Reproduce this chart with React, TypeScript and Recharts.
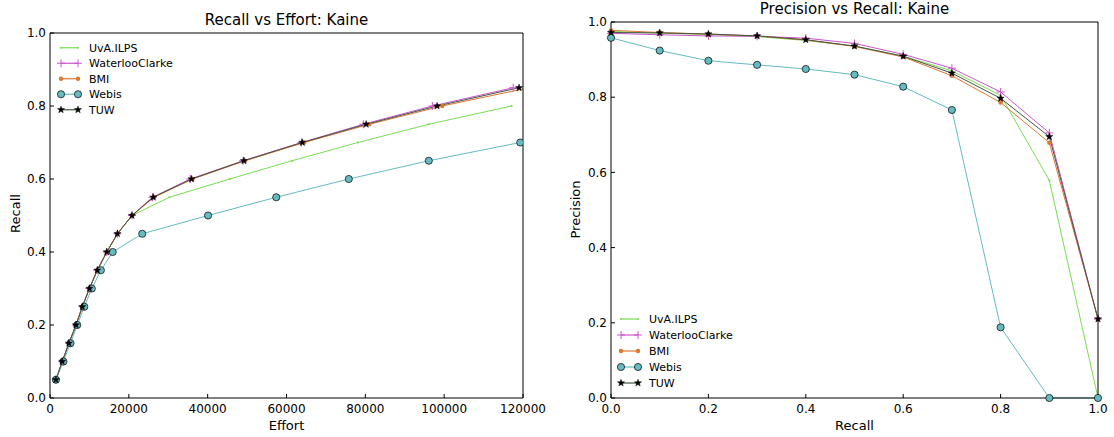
import React from "react";
import { LineChart, Line, XAxis, YAxis, Legend } from "recharts";

// recall vs effort (left panel)
const recallLevels = [0.05, 0.1, 0.15, 0.2, 0.25, 0.3, 0.35, 0.4, 0.45, 0.5, 0.55, 0.6, 0.65, 0.7, 0.75, 0.8, 0.85];
const uvaEffort = [1500, 3100, 4800, 6600, 8200, 10000, 12000, 14400, 17100, 20800, 30300, 45600, 61400, 78100, 96100, 117100];
const waterlooEffort = [1500, 3100, 4800, 6600, 8200, 10000, 12000, 14400, 17100, 20800, 26000, 35600, 49000, 63800, 79500, 97000, 117500];
const bmiEffort = [1500, 3100, 4800, 6600, 8200, 10000, 12000, 14400, 17100, 20800, 26400, 36200, 49500, 64500, 81000, 99500, 121500];
const webisEffort = [1500, 3400, 5200, 6900, 8700, 10600, 12900, 15900, 23400, 40100, 57400, 75800, 96100, 119300];
const tuwEffort = [1500, 3100, 4800, 6600, 8200, 10000, 12000, 14400, 17100, 20800, 26200, 35900, 49200, 64000, 80200, 98200, 119000];
const effortTicks = [0, 20000, 40000, 60000, 80000, 100000, 120000];

// precision vs recall (right panel)
const recallPoints = [0, 0.1, 0.2, 0.3, 0.4, 0.5, 0.6, 0.7, 0.8, 0.9, 1.0];
const uvaPrecision = [0.975, 0.97, 0.967, 0.961, 0.951, 0.936, 0.909, 0.87, 0.805, 0.579, 0.0];
const waterlooPrecision = [0.97, 0.966, 0.963, 0.962, 0.957, 0.943, 0.914, 0.877, 0.814, 0.705, 0.21];
const bmiPrecision = [0.978, 0.972, 0.968, 0.963, 0.952, 0.935, 0.907, 0.857, 0.786, 0.679, 0.21];
const webisPrecision = [0.958, 0.924, 0.897, 0.886, 0.875, 0.86, 0.828, 0.766, 0.188, 0.0, 0.0];
const tuwPrecision = [0.972, 0.971, 0.968, 0.963, 0.953, 0.936, 0.909, 0.864, 0.797, 0.695, 0.21];
const unitTicks = [0, 0.2, 0.4, 0.6, 0.8, 1.0];

const FONT = "'DejaVu Sans', sans-serif";

const series = [
  { name: "UvA.ILPS", color: "#77dd55", marker: "point" },
  { name: "WaterlooClarke", color: "#cc55cc", marker: "plus" },
  { name: "BMI", color: "#dd7733", marker: "dot" },
  { name: "Webis", color: "#66bbc0", marker: "circle" },
  { name: "TUW", color: "#445544", marker: "star" },
];

const toPairs = (xs: number[], ys: number[]) => xs.map((x, i) => ({ x, y: ys[i] }));

const effortData = [
  toPairs(uvaEffort, recallLevels),
  toPairs(waterlooEffort, recallLevels),
  toPairs(bmiEffort, recallLevels),
  toPairs(webisEffort, recallLevels),
  toPairs(tuwEffort, recallLevels),
];

const prData = [
  toPairs(recallPoints, uvaPrecision),
  toPairs(recallPoints, waterlooPrecision),
  toPairs(recallPoints, bmiPrecision),
  toPairs(recallPoints, webisPrecision),
  toPairs(recallPoints, tuwPrecision),
];

function starPoints(cx: number, cy: number, r: number) {
  const pts: string[] = [];
  for (let i = 0; i < 10; i++) {
    const rad = i % 2 === 0 ? r : r * 0.42;
    const a = -Math.PI / 2 + (i * Math.PI) / 5;
    pts.push(`${cx + rad * Math.cos(a)},${cy + rad * Math.sin(a)}`);
  }
  return pts.join(" ");
}

function Marker({ kind, color, cx, cy }: { kind: string; color: string; cx: number; cy: number }) {
  if (cx == null || cy == null || isNaN(cx) || isNaN(cy)) return <g />;
  switch (kind) {
    case "point":
      return <circle cx={cx} cy={cy} r={1.1} fill={color} />;
    case "plus":
      return (
        <g stroke={color} strokeWidth={1}>
          <line x1={cx - 4} y1={cy} x2={cx + 4} y2={cy} />
          <line x1={cx} y1={cy - 4} x2={cx} y2={cy + 4} />
        </g>
      );
    case "dot":
      return <circle cx={cx} cy={cy} r={2.2} fill={color} />;
    case "circle":
      return <circle cx={cx} cy={cy} r={3.6} fill={color} stroke="#000" strokeWidth={0.7} />;
    case "star":
      return <polygon points={starPoints(cx, cy, 3.8)} fill="#000" stroke="#000" strokeWidth={0.4} />;
    default:
      return <g />;
  }
}

function makeDot(kind: string, color: string) {
  return (props: any) => (
    <Marker key={`d-${props.index}`} kind={kind} color={color} cx={props.cx} cy={props.cy} />
  );
}

function LegendBox({ spacing }: { spacing: number }) {
  return (
    <svg width={150} height={spacing * 5} style={{ display: "block" }}>
      {series.map((s, i) => {
        const y = spacing / 2 + i * spacing;
        return (
          <g key={s.name}>
            <line x1={4} y1={y} x2={21} y2={y} stroke={s.color} strokeWidth={1.2} />
            <Marker kind={s.marker} color={s.color} cx={4} cy={y} />
            <Marker kind={s.marker} color={s.color} cx={21} cy={y} />
            <text x={32} y={y + 4} fontSize={11} fontFamily={FONT} fill="#000">
              {s.name}
            </text>
          </g>
        );
      })}
    </svg>
  );
}

const fmt1 = (v: number) => v.toFixed(1);
const tickStyle = { fill: "#000", fontSize: 12, fontFamily: FONT };

// the first series is bound to the mirrored top/right axes so they draw the frame
const axisIds = (i: number) => (i === 0 ? { xAxisId: "t", yAxisId: "r" } : { xAxisId: "b", yAxisId: "l" });

export default function App() {
  return (
    <div style={{ position: "absolute", left: 0, top: 0, width: 1114, height: 437, background: "#fff", fontFamily: FONT }}>
      {/* left panel */}
      <div style={{ position: "absolute", left: 0, top: 0, width: 560, height: 437 }}>
        <div style={{ position: "absolute", left: 50, width: 473, top: 11, textAlign: "center", fontSize: 15 }}>
          Recall vs Effort: Kaine
        </div>
        <div style={{ position: "absolute", left: 50, width: 473, top: 418, textAlign: "center", fontSize: 13 }}>
          Effort
        </div>
        <div style={{ position: "absolute", left: -15, top: 206, width: 60, textAlign: "center", fontSize: 13, transform: "rotate(-90deg)" }}>
          Recall
        </div>
        <LineChart width={560} height={437} margin={{ top: 32, right: 36, bottom: 9, left: 10 }}>
          <XAxis
            xAxisId="b"
            type="number"
            dataKey="x"
            domain={[0, 120000]}
            ticks={effortTicks}
            allowDataOverflow
            stroke="#000"
            tickSize={-4}
            tickMargin={10}
            height={30}
            tick={tickStyle}
          />
          <XAxis xAxisId="t" orientation="top" type="number" dataKey="x" domain={[0, 120000]} ticks={effortTicks} allowDataOverflow stroke="#000" tickSize={-4} tick={false} height={1} />
          <YAxis
            yAxisId="l"
            type="number"
            domain={[0, 1]}
            ticks={unitTicks}
            tickFormatter={fmt1}
            stroke="#000"
            tickSize={-4}
            tickMargin={8}
            width={40}
            tick={tickStyle}
          />
          <YAxis yAxisId="r" orientation="right" type="number" domain={[0, 1]} ticks={unitTicks} stroke="#000" tickSize={-4} tick={false} width={1} />
          {series.map((s, i) => (
            <Line
              key={s.name}
              {...axisIds(i)}
              data={effortData[i]}
              dataKey="y"
              name={s.name}
              stroke={s.color}
              strokeWidth={1}
              dot={makeDot(s.marker, s.color)}
              activeDot={false}
              isAnimationActive={false}
            />
          ))}
          <Legend
            layout="vertical"
            align="center"
            verticalAlign="middle"
            content={() => <LegendBox spacing={15.5} />}
            wrapperStyle={{ position: "absolute", left: 57, top: 40, width: 150, height: 78 }}
          />
        </LineChart>
      </div>

      {/* right panel */}
      <div style={{ position: "absolute", left: 560, top: 0, width: 554, height: 437 }}>
        <div style={{ position: "absolute", left: 51, width: 487, top: 0, textAlign: "center", fontSize: 15 }}>
          Precision vs Recall: Kaine
        </div>
        <div style={{ position: "absolute", left: 51, width: 487, top: 418, textAlign: "center", fontSize: 13 }}>
          Recall
        </div>
        <div style={{ position: "absolute", left: -20, top: 202, width: 70, textAlign: "center", fontSize: 13, transform: "rotate(-90deg)" }}>
          Precision
        </div>
        <LineChart width={554} height={437} margin={{ top: 21, right: 15, bottom: 9, left: 11 }}>
          <XAxis
            xAxisId="b"
            type="number"
            dataKey="x"
            domain={[0, 1]}
            ticks={unitTicks}
            tickFormatter={fmt1}
            stroke="#000"
            tickSize={-4}
            tickMargin={10}
            height={30}
            tick={tickStyle}
          />
          <XAxis xAxisId="t" orientation="top" type="number" dataKey="x" domain={[0, 1]} ticks={unitTicks} stroke="#000" tickSize={-4} tick={false} height={1} />
          <YAxis
            yAxisId="l"
            type="number"
            domain={[0, 1]}
            ticks={unitTicks}
            tickFormatter={fmt1}
            stroke="#000"
            tickSize={-4}
            tickMargin={8}
            width={40}
            tick={tickStyle}
          />
          <YAxis yAxisId="r" orientation="right" type="number" domain={[0, 1]} ticks={unitTicks} stroke="#000" tickSize={-4} tick={false} width={1} />
          {series.map((s, i) => (
            <Line
              key={s.name}
              {...axisIds(i)}
              data={prData[i]}
              dataKey="y"
              name={s.name}
              stroke={s.color}
              strokeWidth={1}
              dot={makeDot(s.marker, s.color)}
              activeDot={false}
              isAnimationActive={false}
            />
          ))}
          <Legend
            layout="vertical"
            align="center"
            verticalAlign="middle"
            content={() => <LegendBox spacing={16} />}
            wrapperStyle={{ position: "absolute", left: 57, top: 311, width: 150, height: 80 }}
          />
        </LineChart>
      </div>
    </div>
  );
}
